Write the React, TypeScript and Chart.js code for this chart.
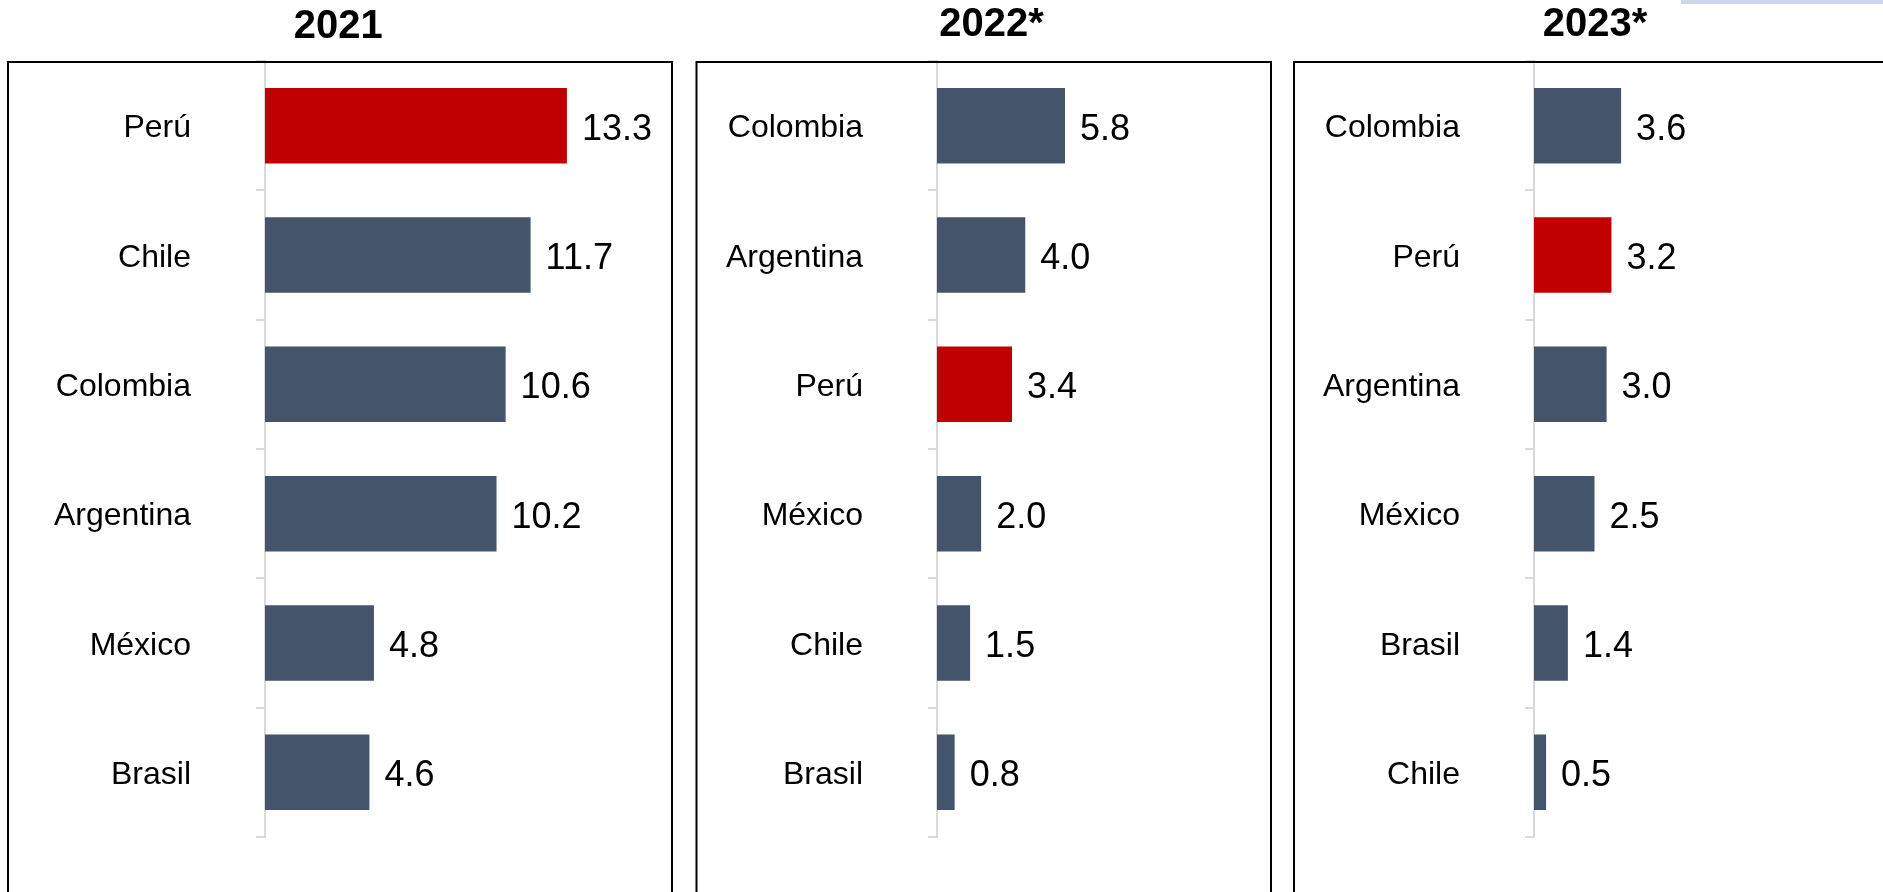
import React, { useEffect, useRef } from "react";
import { Chart, registerables } from "chart.js";

Chart.register(...registerables);

const titles = ["2021", "2022*", "2023*"];
const cats2021 = ["Perú", "Chile", "Colombia", "Argentina", "México", "Brasil"];
const vals2021 = [13.3, 11.7, 10.6, 10.2, 4.8, 4.6];
const cats2022 = ["Colombia", "Argentina", "Perú", "México", "Chile", "Brasil"];
const vals2022 = [5.8, 4.0, 3.4, 2.0, 1.5, 0.8];
const cats2023 = ["Colombia", "Perú", "Argentina", "México", "Brasil", "Chile"];
const vals2023 = [3.6, 3.2, 3.0, 2.5, 1.4, 0.5];
const highlight = "Perú";

const RED = "#C00000";
const SLATE = "#44546A";
const FONT = '"Liberation Sans", Arial, Helvetica, sans-serif';

type Panel = {
  title: string;
  cats: string[];
  vals: number[];
  left: number;
  width: number;
  axisW: number;
  xMax: number;
  padRight: number;
  boxLeft: number;
  boxRight: number;
  titleTop: number;
};

const panels: Panel[] = [
  { title: titles[0], cats: cats2021, vals: vals2021, left: 3, width: 680, axisW: 262, xMax: 18, padRight: 9.4, boxLeft: 5, boxRight: 669, titleTop: 3 },
  { title: titles[1], cats: cats2022, vals: vals2022, left: 693, width: 600, axisW: 244, xMax: 16, padRight: 2.9, boxLeft: 3.5, boxRight: 578, titleTop: 1 },
  { title: titles[2], cats: cats2023, vals: vals2023, left: 1281, width: 630, axisW: 253, xMax: 15.5, padRight: 1.9, boxLeft: 13, boxRight: 2000, titleTop: 1 },
];

const H = 892;

function PanelChart({ p }: { p: Panel }) {
  const ref = useRef<HTMLCanvasElement | null>(null);
  useEffect(() => {
    if (!ref.current) return;
    const boxPlugin = {
      id: "boxPlugin",
      afterDraw(chart: any) {
        const ctx = chart.ctx;
        ctx.save();
        ctx.strokeStyle = "#000000";
        ctx.lineWidth = 2;
        ctx.beginPath();
        ctx.moveTo(p.boxLeft, H + 20);
        ctx.lineTo(p.boxLeft, 62);
        ctx.lineTo(p.boxRight, 62);
        ctx.lineTo(p.boxRight, H + 20);
        ctx.stroke();
        ctx.restore();
      },
    };
    const valuePlugin = {
      id: "valuePlugin",
      afterDatasetsDraw(chart: any) {
        const ctx = chart.ctx;
        const meta = chart.getDatasetMeta(0);
        ctx.save();
        ctx.font = `36px ${FONT}`;
        ctx.fillStyle = "#000000";
        ctx.textAlign = "left";
        ctx.textBaseline = "middle";
        meta.data.forEach((bar: any, i: number) => {
          const v = chart.data.datasets[0].data[i] as number;
          ctx.fillText(v.toFixed(1), bar.x + 15, bar.y + 4);
        });
        ctx.restore();
      },
    };
    const chart = new Chart(ref.current, {
      type: "bar",
      data: {
        labels: p.cats,
        datasets: [
          {
            data: p.vals,
            backgroundColor: p.cats.map((c) => (c === highlight ? RED : SLATE)),
            borderWidth: 0,
            categoryPercentage: 1,
            barPercentage: 0.584,
          },
        ],
      },
      options: {
        indexAxis: "y",
        responsive: false,
        animation: false,
        events: [],
        layout: { padding: { top: 0, left: 0, right: p.padRight, bottom: H - 837 } },
        plugins: {
          legend: { display: false },
          tooltip: { enabled: false },
          title: {
            display: true,
            text: p.title,
            color: "#000000",
            font: { family: FONT, size: 40, weight: "bold", lineHeight: 1.2 },
            padding: { top: p.titleTop, bottom: 61 - p.titleTop - 48 },
          },
        },
        scales: {
          x: { display: false, min: 0, max: p.xMax },
          y: {
            afterFit: (scale: any) => {
              scale.width = p.axisW;
              scale.paddingTop = 0;
              scale.paddingBottom = 0;
            },
            grid: {
              display: true,
              drawOnChartArea: false,
              drawTicks: true,
              tickLength: 9,
              color: "#D9D9D9",
              lineWidth: 2,
              offset: true,
            },
            border: { display: true, color: "#D9D9D9", width: 2 },
            ticks: {
              color: "#000000",
              padding: 65,
              labelOffset: 3,
              font: { family: FONT, size: 32 },
            },
          },
        },
      },
      plugins: [boxPlugin, valuePlugin],
    } as any);
    return () => chart.destroy();
  }, [p]);
  return (
    <div style={{ position: "absolute", left: p.left, top: 0, width: p.width, height: H }}>
      <canvas ref={ref} width={p.width} height={H} style={{ width: p.width, height: H, display: "block" }} />
    </div>
  );
}

export default function App() {
  return (
    <div
      style={{
        position: "absolute",
        left: 0,
        top: 0,
        width: 1883,
        height: H,
        overflow: "hidden",
        background: "#ffffff",
      }}
    >
      {panels.map((p, i) => (
        <PanelChart key={i} p={p} />
      ))}
      <div style={{ position: "absolute", left: 1681, top: 0, width: 202, height: 4, background: "#CED6EB" }} />
    </div>
  );
}
